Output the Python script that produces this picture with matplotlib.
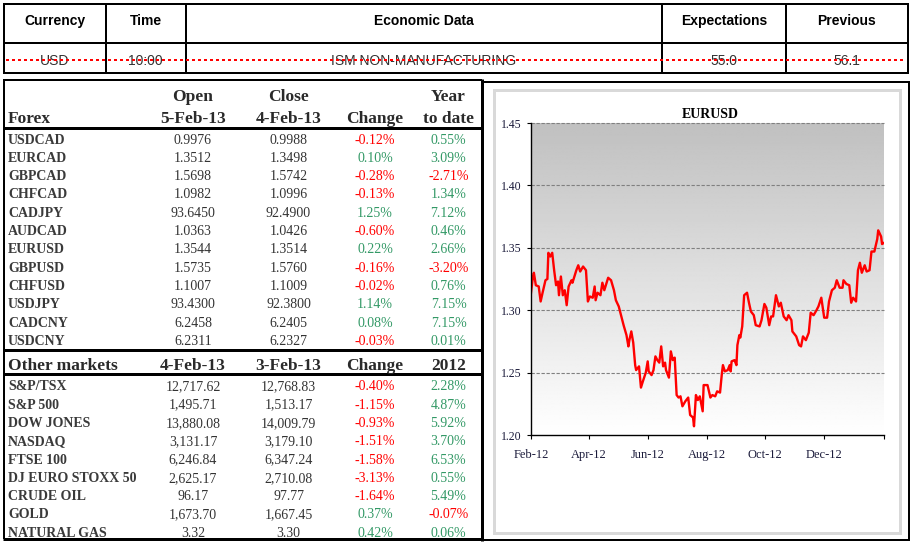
import matplotlib
matplotlib.use("Agg")
import matplotlib.pyplot as plt
import matplotlib.dates as mdates
import numpy as np
import datetime as dt

# ---------------- data ----------------
event_headers = ["Currency", "Time", "Economic Data", "Expectations", "Previous"]
event_row = ["USD", "10:00", "ISM NON-MANUFACTURING", "55.0", "56.1"]

forex_header_top = ["", "Open", "Close", "", "Year"]
forex_header_bottom = ["Forex", "5-Feb-13", "4-Feb-13", "Change", "to date"]
forex_pairs = ["USDCAD", "EURCAD", "GBPCAD", "CHFCAD", "CADJPY", "AUDCAD",
               "EURUSD", "GBPUSD", "CHFUSD", "USDJPY", "CADCNY", "USDCNY"]
forex_open = [0.9976, 1.3512, 1.5698, 1.0982, 93.6450, 1.0363,
              1.3544, 1.5735, 1.1007, 93.4300, 6.2458, 6.2311]
forex_close = [0.9988, 1.3498, 1.5742, 1.0996, 92.4900, 1.0426,
               1.3514, 1.5760, 1.1009, 92.3800, 6.2405, 6.2327]
forex_change = [-0.12, 0.10, -0.28, -0.13, 1.25, -0.60,
                0.22, -0.16, -0.02, 1.14, 0.08, -0.03]
forex_ytd = [0.55, 3.09, -2.71, 1.34, 7.12, 0.46,
             2.66, -3.20, 0.76, 7.15, 7.15, 0.01]

markets_header = ["Other markets", "4-Feb-13", "3-Feb-13", "Change", "2012"]
markets_names = ["S&P/TSX", "S&P 500", "DOW JONES", "NASDAQ", "FTSE 100",
                 "DJ EURO STOXX 50", "CRUDE OIL", "GOLD", "NATURAL GAS"]
markets_last = [12717.62, 1495.71, 13880.08, 3131.17, 6246.84,
                2625.17, 96.17, 1673.70, 3.32]
markets_prev = [12768.83, 1513.17, 14009.79, 3179.10, 6347.24,
                2710.08, 97.77, 1667.45, 3.30]
markets_change = [-0.40, -1.15, -0.93, -1.51, -1.58, -3.13, -1.64, 0.37, 0.42]
markets_2012 = [2.28, 4.87, 5.92, 3.70, 6.53, 0.55, 5.49, -0.07, 0.06]

chart_title = "EURUSD"
eurusd_start = dt.date(2012, 2, 1)
eurusd_end = dt.date(2013, 2, 1)
eurusd_day_offsets = [
    0, 2, 3, 5, 8, 10, 12, 15, 17, 18, 20, 22, 24, 26, 28, 29, 31, 33, 35, 37,
    39, 42, 43, 47, 49, 51, 54, 57, 59, 61, 64, 66, 67, 69, 72, 74, 76, 80, 83, 86,
    88, 91, 94, 96, 99, 101, 102, 104, 106, 108, 109, 112, 114, 116, 119, 121, 122, 125, 127, 129,
    131, 133, 135, 137, 139, 140, 143, 145, 147, 149, 151, 153, 155, 157, 160, 163, 165, 168, 169, 171,
    173, 175, 178, 179, 183, 186, 188, 191, 193, 196, 198, 199, 201, 204, 206, 207, 208, 211, 213, 214,
    216, 217, 219, 221, 224, 226, 228, 231, 233, 237, 239, 242, 244, 247, 249, 251, 254, 257, 259, 262,
    265, 267, 270, 271, 274, 275, 278, 280, 282, 285, 288, 290, 293, 296, 298, 301, 304, 307, 309, 312,
    315, 317, 320, 323, 324, 327, 330, 332, 334, 337, 339, 341, 343, 346, 348, 351, 353, 356, 359, 360,
    363, 364, 366]
eurusd_values = [
    1.314, 1.327, 1.330, 1.320, 1.319, 1.307, 1.314, 1.324, 1.325, 1.346, 1.343, 1.346, 1.332, 1.320, 1.323, 1.312, 1.327, 1.312, 1.316, 1.304,
    1.319, 1.324, 1.322, 1.332, 1.336, 1.331, 1.335, 1.332, 1.307, 1.311, 1.310, 1.319, 1.308, 1.314, 1.312, 1.322, 1.316, 1.326, 1.324, 1.316,
    1.308, 1.303, 1.294, 1.288, 1.280, 1.271, 1.276, 1.283, 1.274, 1.256, 1.252, 1.255, 1.238, 1.243, 1.250, 1.259, 1.251, 1.248, 1.252, 1.263,
    1.260, 1.258, 1.271, 1.255, 1.258, 1.252, 1.246, 1.267, 1.260, 1.262, 1.232, 1.230, 1.231, 1.223, 1.227, 1.230, 1.216, 1.214, 1.207, 1.232,
    1.228, 1.231, 1.219, 1.240, 1.240, 1.230, 1.232, 1.231, 1.235, 1.234, 1.250, 1.256, 1.251, 1.252, 1.256, 1.251, 1.259, 1.260, 1.256, 1.272,
    1.280, 1.278, 1.287, 1.312, 1.314, 1.306, 1.299, 1.296, 1.288, 1.287, 1.292, 1.305, 1.302, 1.288, 1.295, 1.295, 1.312, 1.303, 1.306, 1.295,
    1.292, 1.296, 1.292, 1.283, 1.280, 1.279, 1.272, 1.271, 1.279, 1.276, 1.282, 1.298, 1.296, 1.300, 1.303, 1.310, 1.294, 1.294, 1.307, 1.316,
    1.318, 1.324, 1.318, 1.318, 1.324, 1.321, 1.320, 1.306, 1.310, 1.307, 1.332, 1.338, 1.330, 1.336, 1.331, 1.332, 1.347, 1.347, 1.357, 1.364,
    1.359, 1.353, 1.354]
x_tick_dates = [dt.date(2012, 2, 1), dt.date(2012, 4, 1), dt.date(2012, 6, 1),
                dt.date(2012, 8, 1), dt.date(2012, 10, 1), dt.date(2012, 12, 1),
                dt.date(2013, 2, 1)]
x_tick_labels = ["Feb-12", "Apr-12", "Jun-12", "Aug-12", "Oct-12", "Dec-12", ""]
y_ticks = [1.20, 1.25, 1.30, 1.35, 1.40, 1.45]

# ---------------- styles ----------------
W, H = 915, 545
PT = 0.72  # points per pixel at 100 dpi
SANS = "Liberation Sans"
SERIF = "Liberation Serif"
RED = "#ff0000"
GREEN = "#339966"
LABEL_C = "#3a3a3a"
VALUE_C = "#333333"
HEAD_C = "#2a2a2a"

fig = plt.figure(figsize=(W / 100, H / 100), dpi=100)
bg = fig.add_axes([0, 0, 1, 1])
bg.set_xlim(0, W)
bg.set_ylim(H, 0)
bg.axis("off")


def hline(y, x0, x1, lw_px, color="black", **kw):
    bg.plot([x0, x1], [y, y], color=color, lw=lw_px * PT, solid_capstyle="butt", **kw)


def vline(x, y0, y1, lw_px, color="black", **kw):
    bg.plot([x, x], [y0, y1], color=color, lw=lw_px * PT, solid_capstyle="butt", **kw)


# ---------------- top event table ----------------
t_left, t_right, t_top, t_mid, t_bot = 4, 908, 4, 42.5, 73
col_edges = [t_left, 106, 185.5, 662, 786, t_right]
hline(60, 6, 906, 2, color=RED, linestyle=(0, (1.5, 1.5)), zorder=3)
for y in (t_top, t_mid, t_bot):
    hline(y, t_left - 1, t_right + 1, 2)
for x in col_edges:
    vline(x, t_top, t_bot, 2)
for i, (h, v) in enumerate(zip(event_headers, event_row)):
    cx = (col_edges[i] + col_edges[i + 1]) / 2
    bg.text(cx, 25, h, ha="center", va="baseline", fontsize=10, fontweight="bold",
            family=SANS, color="black")
    bg.text(cx, 65, v, ha="center", va="baseline", fontsize=10,
            family=SANS, color=VALUE_C, zorder=2)

# ---------------- left market table ----------------
L_left, L_right, L_top, L_bot = 4, 481.5, 80, 539
hline(L_top, L_left - 1, L_right, 2)
hline(L_bot, L_left - 1, L_right, 3)
vline(L_left, L_top, L_bot, 2)
vline(L_right, L_top - 1, L_bot + 1.5, 3)
hline(127.5, L_left, L_right, 3)
hline(350, L_left, L_right, 3)
hline(374, L_left, L_right, 3)

col_x = [8, 193, 288.5, 375, 448.5]


def pct_color(v):
    return RED if v < 0 else GREEN


def header_row(labels, yc):
    for i, s in enumerate(labels):
        if not s:
            continue
        ha = "left" if i == 0 else "center"
        bg.text(col_x[i], yc + 6, s, ha=ha, va="baseline", fontsize=12.5,
                fontweight="bold", family=SERIF, color=HEAD_C)


header_row(forex_header_top, 95)
header_row(forex_header_bottom, 116.7)
header_row(markets_header, 364)

step = 18.3
for k, name in enumerate(forex_pairs):
    yb = 139 + k * step + 4.6
    bg.text(col_x[0], yb, name, ha="left", va="baseline", fontsize=10,
            fontweight="bold", family=SERIF, color=LABEL_C)
    bg.text(col_x[1], yb, f"{forex_open[k]:.4f}", ha="center", va="baseline",
            fontsize=10, family=SERIF, color=VALUE_C)
    bg.text(col_x[2], yb, f"{forex_close[k]:.4f}", ha="center", va="baseline",
            fontsize=10, family=SERIF, color=VALUE_C)
    bg.text(col_x[3], yb, f"{forex_change[k]:.2f}%", ha="center", va="baseline",
            fontsize=10, family=SERIF, color=pct_color(forex_change[k]))
    bg.text(col_x[4], yb, f"{forex_ytd[k]:.2f}%", ha="center", va="baseline",
            fontsize=10, family=SERIF, color=pct_color(forex_ytd[k]))

for k, name in enumerate(markets_names):
    yb = 385.7 + k * step + 4.6
    bg.text(col_x[0], yb, name, ha="left", va="baseline", fontsize=10,
            fontweight="bold", family=SERIF, color=LABEL_C)
    bg.text(col_x[1], yb, f"{markets_last[k]:,.2f}", ha="center", va="baseline",
            fontsize=10, family=SERIF, color=VALUE_C)
    bg.text(col_x[2], yb, f"{markets_prev[k]:,.2f}", ha="center", va="baseline",
            fontsize=10, family=SERIF, color=VALUE_C)
    bg.text(col_x[3], yb, f"{markets_change[k]:.2f}%", ha="center", va="baseline",
            fontsize=10, family=SERIF, color=pct_color(markets_change[k]))
    bg.text(col_x[4], yb, f"{markets_2012[k]:.2f}%", ha="center", va="baseline",
            fontsize=10, family=SERIF, color=pct_color(markets_2012[k]))

# ---------------- chart panel ----------------
P_left, P_right, P_top, P_bot = 481.5, 908.5, 82, 539.5
hline(P_top, P_left, P_right + 1, 2)
hline(P_bot, P_left, P_right + 1, 2)
vline(P_right, P_top, P_bot, 2)
inner = plt.Rectangle((493.5, 90), 406, 443, fill=False, edgecolor="#d9d9d9",
                      lw=3 * PT)
bg.add_patch(inner)
bg.text(710, 118, chart_title, ha="center", va="baseline", fontsize=10,
        fontweight="bold", family=SERIF, color="black")

ax_l, ax_r, ax_t, ax_b = 531, 884, 123, 435
ax = fig.add_axes([ax_l / W, (H - ax_b) / H, (ax_r - ax_l) / W, (ax_b - ax_t) / H])
ax.patch.set_alpha(0)

x0 = mdates.date2num(eurusd_start)
x1 = mdates.date2num(eurusd_end)
# vertical gradient: white at the bottom (1.20), grey at the top (1.45)
grad = np.linspace(1.0, 0.753, 256).reshape(-1, 1)
ax.imshow(grad, extent=[x0, x1, 1.20, 1.45], origin="lower", aspect="auto",
          cmap="gray", vmin=0, vmax=1, zorder=0, interpolation="bilinear")

dates = [eurusd_start + dt.timedelta(days=d) for d in eurusd_day_offsets]
ax.plot(dates, eurusd_values, color=RED, lw=1.7, zorder=3, solid_joinstyle="round")

ax.set_xlim(x0, x1)
ax.set_ylim(1.20, 1.45)
ax.set_xticks([mdates.date2num(d) for d in x_tick_dates])
ax.set_xticklabels(x_tick_labels)
ax.set_yticks(y_ticks)
ax.set_yticklabels([f"{v:.2f}" for v in y_ticks])
for v in y_ticks[1:]:
    ax.axhline(v, color="#808080", lw=0.8, linestyle=(0, (3, 1.5)), zorder=1,
               clip_on=False)
for s in ("top", "right"):
    ax.spines[s].set_visible(False)
for s in ("left", "bottom"):
    ax.spines[s].set_color("black")
    ax.spines[s].set_linewidth(1.0)
    ax.spines[s].set_zorder(4)
ax.tick_params(axis="both", direction="out", length=3, width=0.8, color="black")
ax.tick_params(axis="x", pad=7, labelsize=9, labelcolor="#1a1a3a")
ax.tick_params(axis="y", pad=4, labelsize=8.5, labelcolor="#1a1a3a")
for lab in ax.get_xticklabels() + ax.get_yticklabels():
    lab.set_family(SERIF)

fig.savefig("out.png", dpi=100)
